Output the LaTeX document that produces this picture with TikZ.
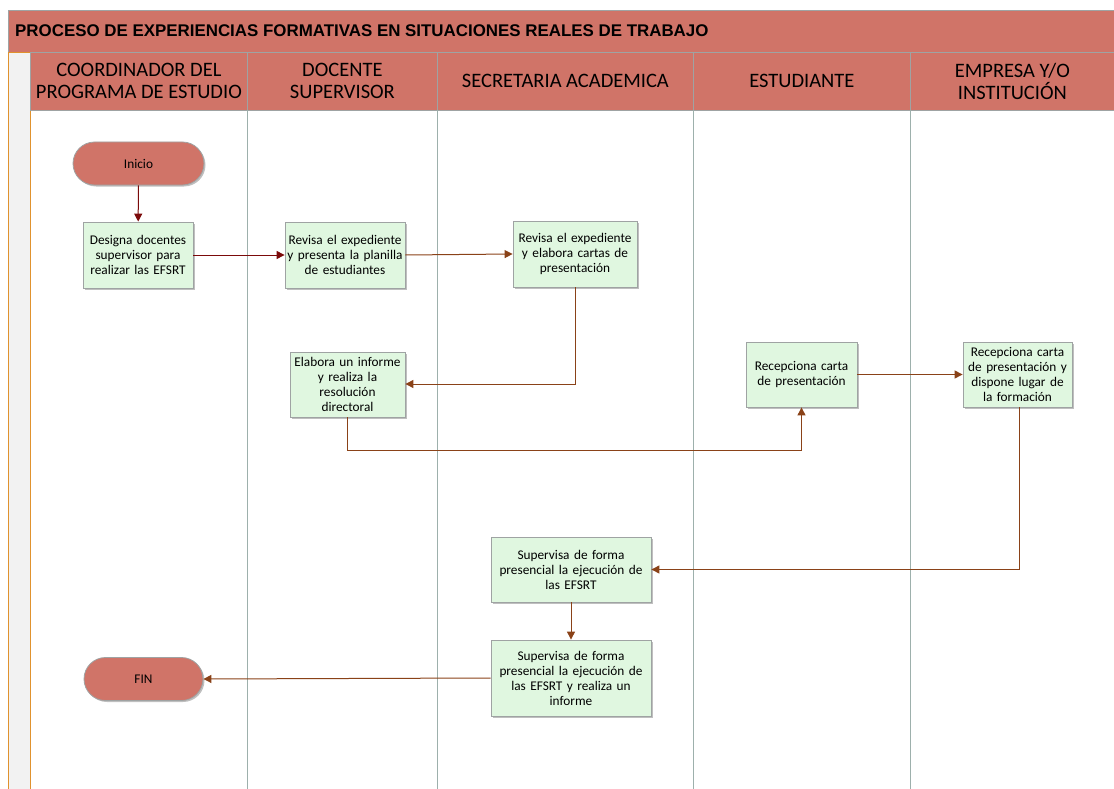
\documentclass[tikz,border=0pt]{standalone}
\usepackage{fontspec}
\setmainfont{Carlito}
\newfontfamily\titlefont{Liberation Sans}
\usetikzlibrary{shadows,arrows.meta}
\definecolor{salmon}{HTML}{D07468}
\definecolor{boxgreen}{HTML}{E0F7E0}
\definecolor{edgegray}{HTML}{9FA3A3}
\definecolor{lanegray}{HTML}{9DB0AC}
\definecolor{darkred}{HTML}{7B0A0A}
\definecolor{brownarrow}{HTML}{8A4218}
\definecolor{stuborange}{HTML}{E0922E}
\definecolor{stubfill}{HTML}{F2F2F2}
\tikzset{
  procbox/.style={draw=edgegray, fill=boxgreen, line width=0.8pt, align=center,
    font=\fontsize{13.3}{15}\selectfont, inner sep=1pt,
    drop shadow={shadow xshift=1.5pt, shadow yshift=-1.5pt, fill=black, opacity=0.25}},
  term/.style={draw=edgegray, fill=salmon, line width=0.8pt, rounded corners=21.5pt,
    font=\fontsize{13.3}{15}\selectfont,
    drop shadow={shadow xshift=1.5pt, shadow yshift=-1.5pt, fill=black, opacity=0.25}},
  hdr/.style={draw=edgegray, fill=salmon, line width=0.8pt, align=center,
    font=\fontsize{20.5}{22}\selectfont, inner sep=0pt},
  lane/.style={draw=lanegray, line width=1pt},
  flowA/.style={draw=darkred, line width=1pt, -{Triangle[length=8pt,width=8pt]}},
  flowB/.style={draw=brownarrow, line width=1pt, -{Triangle[length=8pt,width=8pt]}}
}
\begin{document}
\begin{tikzpicture}[x=1pt,y=-1pt]
\useasboundingbox (0,0) rectangle (1114,789);
% title bar
\node[draw=edgegray, fill=salmon, line width=0.8pt, minimum width=1106pt, minimum height=42pt, anchor=north west, inner sep=0pt] (title) at (8,10) {};
\node[anchor=west, font=\titlefont\bfseries\fontsize{16.9}{18}\selectfont, inner sep=0pt] (titletext) at (15,31) {PROCESO DE EXPERIENCIAS FORMATIVAS EN SITUACIONES REALES DE TRABAJO};
% left stub
\node[draw=stuborange, fill=stubfill, line width=1.4pt, minimum width=22pt, minimum height=745pt, anchor=north west, inner sep=0pt] (stub) at (8,52) {};
% headers
\node[hdr, minimum width=217pt, minimum height=58pt, anchor=north west] (h1) at (30,52) {COORDINADOR DEL\\PROGRAMA DE ESTUDIO};
\node[hdr, minimum width=190pt, minimum height=58pt, anchor=north west] (h2) at (247,52) {DOCENTE\\SUPERVISOR};
\node[hdr, minimum width=256pt, minimum height=58pt, anchor=north west] (h3) at (437,52) {SECRETARIA ACADEMICA};
\node[hdr, minimum width=217pt, minimum height=58pt, anchor=north west] (h4) at (693,52) {ESTUDIANTE};
\node[hdr, minimum width=204pt, minimum height=58pt, anchor=north west] (h5) at (910,52) {EMPRESA Y/O\\INSTITUCIÓN};
% lane lines
\coordinate (l1t) at (247,110); \coordinate (l1b) at (247,789);
\coordinate (l2t) at (437,110); \coordinate (l2b) at (437,789);
\coordinate (l3t) at (693,110); \coordinate (l3b) at (693,789);
\coordinate (l4t) at (910,110); \coordinate (l4b) at (910,789);
\draw[lane] (l1t) -- (l1b);
\draw[lane] (l2t) -- (l2b);
\draw[lane] (l3t) -- (l3b);
\draw[lane] (l4t) -- (l4b);
% nodes
\node[term, minimum width=131pt, minimum height=43pt] (ini) at (138.5,163.5) {Inicio};
\node[procbox, minimum width=110pt, minimum height=66pt, text width=108pt] (des) at (138,255) {Designa docentes\\supervisor para\\realizar las EFSRT};
\node[procbox, minimum width=120pt, minimum height=66pt, text width=118pt] (rev1) at (345,255) {Revisa el expediente\\y presenta la planilla\\de estudiantes};
\node[procbox, minimum width=124pt, minimum height=66pt, text width=122pt] (rev2) at (575,254) {Revisa el expediente\\y elabora cartas de\\presentación};
\node[procbox, minimum width=115pt, minimum height=65pt, text width=113pt] (ela) at (347.5,384.5) {Elabora un informe\\y realiza la\\resolución\\directoral};
\node[procbox, minimum width=111pt, minimum height=65pt, text width=109pt] (rec1) at (801.5,374.5) {Recepciona carta\\de presentación};
\node[procbox, minimum width=109pt, minimum height=65pt, text width=107pt] (rec2) at (1017.5,374.5) {Recepciona carta\\de presentación y\\dispone lugar de\\la formación};
\node[procbox, minimum width=160pt, minimum height=65pt, text width=158pt] (sup1) at (571,569.5) {Supervisa de forma\\presencial la ejecución de\\las EFSRT};
\node[procbox, minimum width=160pt, minimum height=76pt, text width=158pt] (sup2) at (571,678) {Supervisa de forma\\presencial la ejecución de\\las EFSRT y realiza un\\informe};
\node[term, minimum width=119pt, minimum height=43pt] (fin) at (143.5,679) {FIN};
% connectors
\draw[flowA] (ini) -- (des);
\draw[flowA] (des) -- (rev1);
\draw[flowB] (rev1.east) -- (rev2.west);
\draw[flowB] (rev2.south) |- (ela.east |- 0,384);
\draw[flowB] (ela.south) -- ++(0,33) -| (rec1.south);
\draw[flowB] (rec1) -- (rec2);
\draw[flowB] ([xshift=1.5pt]rec2.south) |- (sup1.east);
\draw[flowB] (sup1) -- (sup2);
\draw[flowB] (sup2.west) -- (fin.east);
\end{tikzpicture}
\end{document}
